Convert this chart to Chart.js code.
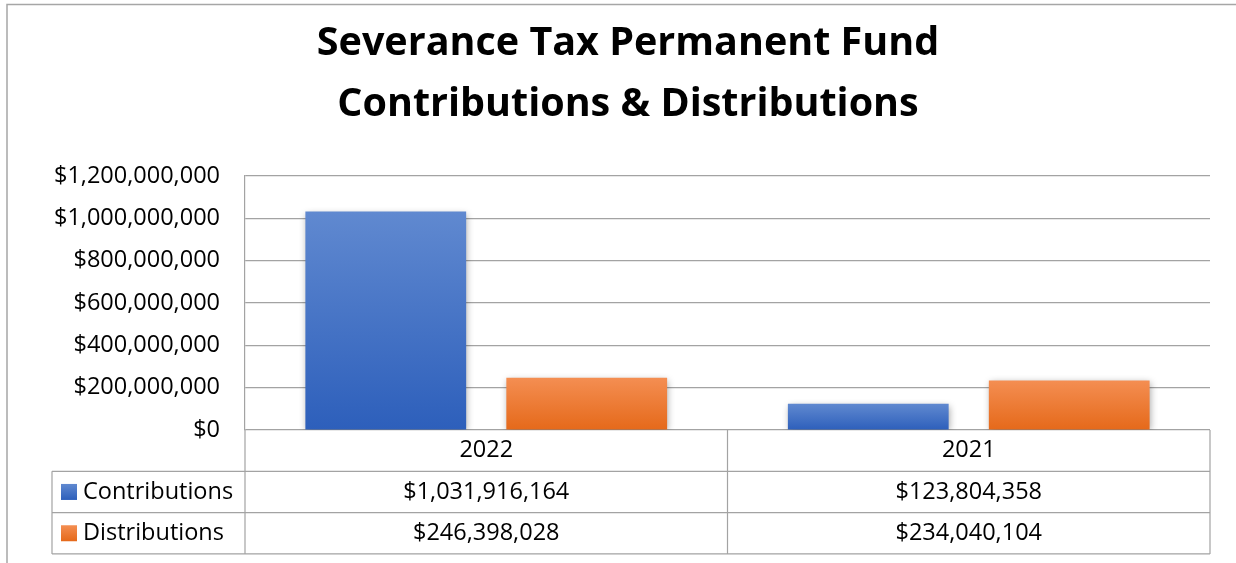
<!DOCTYPE html>
<html>
<head>
<meta charset="utf-8">
<script src="https://cdn.jsdelivr.net/npm/chart.js@4/dist/chart.umd.min.js"></script>
<style>
  html, body { margin: 0; padding: 0; background: #fff; }
  #wrap { width: 1236px; height: 563px; }
</style>
</head>
<body>
<div id="wrap"><canvas id="fundChart" width="1236" height="563"></canvas></div>
<script>
const titleLines = ['Severance Tax Permanent Fund', 'Contributions & Distributions'];
const categories = ['2022', '2021'];
const seriesNames = ['Contributions', 'Distributions'];
const contributions = [1031916164, 123804358];
const distributions = [246398028, 234040104];
const yMax = 1200000000;
const yStep = 200000000;

const FONT = '"Open Sans", Lato, sans-serif';
const LINE = '#a3a3a3';
const money = v => '$' + Math.round(v).toLocaleString('en-US');

// light top -> dark bottom, like the Excel fill
const shades = {
    Contributions: ['#6089d0', '#2d5fbb'],
    Distributions: ['#f48e52', '#e5691a']
};

function barFill(name) {
    return function (c) {
        const chart = c.chart;
        if (!chart.chartArea || c.type !== 'data') return shades[name][1];
        const y = chart.scales.y;
        const top = y.getPixelForValue(c.parsed.y);
        const bot = y.getPixelForValue(0);
        const g = chart.ctx.createLinearGradient(0, top, 0, bot);
        g.addColorStop(0, shades[name][0]);
        g.addColorStop(1, shades[name][1]);
        return g;
    };
}

const frame = {
    id: 'frame',
    beforeDraw(chart) {
        const ctx = chart.ctx;
        ctx.save();
        ctx.strokeStyle = '#a6a6a6';
        ctx.lineWidth = 1.5;
        ctx.beginPath();
        ctx.moveTo(7, 563);
        ctx.lineTo(7, 4.5);
        ctx.lineTo(1236, 4.5);
        ctx.stroke();
        // title
        ctx.fillStyle = '#000';
        ctx.font = 'bold 39.5px ' + FONT;
        ctx.textAlign = 'center';
        ctx.textBaseline = 'alphabetic';
        ctx.fillText(titleLines[0], 628, 55);
        ctx.fillText(titleLines[1], 628, 116);
        ctx.restore();
    }
};

const shadow = {
    id: 'shadow',
    beforeDatasetsDraw(chart) {
        const ctx = chart.ctx;
        ctx.save();
        ctx.shadowColor = 'rgba(0,0,0,0.35)';
        ctx.shadowBlur = 7;
        ctx.shadowOffsetX = 1;
        ctx.shadowOffsetY = 2;
    },
    afterDatasetsDraw(chart) {
        chart.ctx.restore();
    }
};

// Excel style data table under the plot
const dataTable = {
    id: 'dataTable',
    afterDraw(chart) {
        const ctx = chart.ctx;
        const area = chart.chartArea;
        const x = chart.scales.x;
        const rowH = 41.3;
        const keyLeft = 52;
        const top = area.bottom;
        const mid = (x.getPixelForValue(0) + x.getPixelForValue(1)) / 2;
        ctx.save();
        ctx.strokeStyle = LINE;
        ctx.lineWidth = 1.2;
        ctx.beginPath();
        for (let r = 1; r <= 3; r++) {
            const y = top + r * rowH;
            ctx.moveTo(keyLeft, y);
            ctx.lineTo(area.right, y);
        }
        ctx.moveTo(area.left, top);
        ctx.lineTo(area.left, top + 3 * rowH);
        ctx.moveTo(mid, top);
        ctx.lineTo(mid, top + 3 * rowH);
        ctx.moveTo(area.right, top);
        ctx.lineTo(area.right, top + 3 * rowH);
        ctx.moveTo(keyLeft, top + rowH);
        ctx.lineTo(keyLeft, top + 3 * rowH);
        ctx.stroke();

        ctx.fillStyle = '#000';
        ctx.font = '23.5px ' + FONT;
        ctx.textBaseline = 'middle';
        ctx.textAlign = 'center';
        categories.forEach((c, i) => {
            ctx.fillText(c, x.getPixelForValue(i), top + rowH / 2);
        });
        chart.data.datasets.forEach((ds, r) => {
            const cy = top + (r + 1.5) * rowH;
            ctx.textAlign = 'center';
            ds.data.forEach((v, i) => {
                ctx.fillText(money(v), x.getPixelForValue(i), cy);
            });
            const g = ctx.createLinearGradient(0, cy - 8, 0, cy + 8);
            g.addColorStop(0, shades[ds.label][0]);
            g.addColorStop(1, shades[ds.label][1]);
            ctx.fillStyle = g;
            ctx.fillRect(61, cy - 8, 16, 16);
            ctx.fillStyle = '#000';
            ctx.textAlign = 'left';
            ctx.fillText(ds.label, 83, cy);
        });
        ctx.restore();
    }
};

new Chart(document.getElementById('fundChart'), {
    type: 'bar',
    data: {
        labels: categories,
        datasets: [
            { label: seriesNames[0], data: contributions, backgroundColor: barFill('Contributions') },
            { label: seriesNames[1], data: distributions, backgroundColor: barFill('Distributions') }
        ]
    },
    options: {
        responsive: false,
        devicePixelRatio: 1,
        animation: false,
        categoryPercentage: 0.833,
        barPercentage: 0.8,
        layout: { padding: { top: 176, right: 26, bottom: 133, left: 0 } },
        plugins: {
            legend: { display: false },
            title: { display: false },
            tooltip: { enabled: false }
        },
        scales: {
            x: { display: false },
            y: {
                min: 0,
                max: yMax,
                afterFit: s => { s.width = 245; },
                ticks: {
                    stepSize: yStep,
                    padding: 25,
                    color: '#000',
                    font: { family: FONT, size: 23.5 },
                    callback: v => money(v)
                },
                grid: { color: LINE, lineWidth: 1.2, drawTicks: false },
                border: { color: LINE, width: 1.2 }
            }
        }
    },
    plugins: [frame, shadow, dataTable]
});
</script>
</body>
</html>
